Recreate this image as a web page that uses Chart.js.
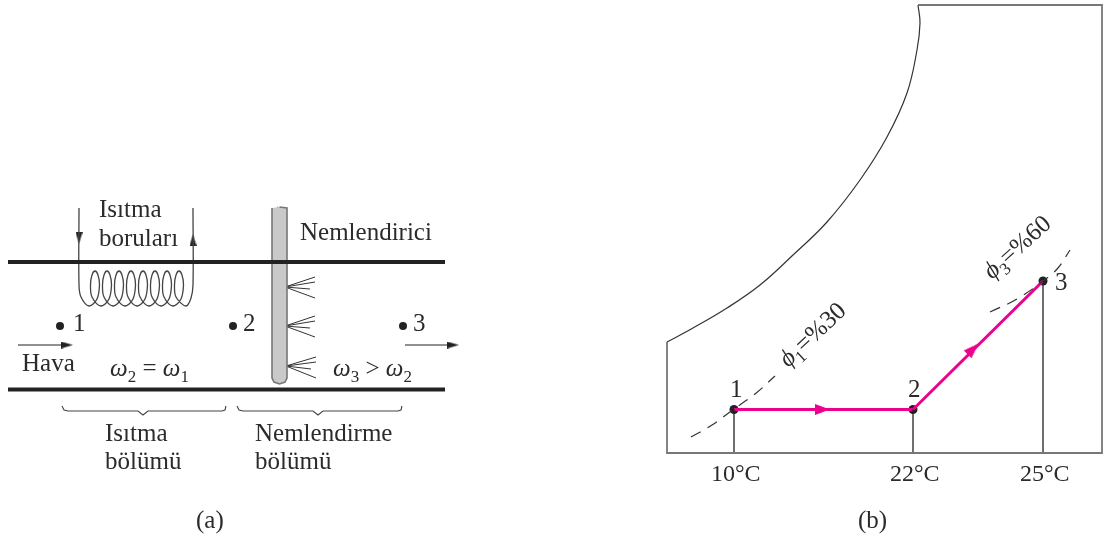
<!DOCTYPE html>
<html>
<head>
<meta charset="utf-8">
<title>Isıtma ve nemlendirme</title>
<script src="https://cdn.jsdelivr.net/npm/chart.js@4/dist/chart.umd.min.js"></script>
<style>
html, body { margin: 0; padding: 0; background: #fff; }
canvas { display: block; }
</style>
</head>
<body>
<canvas id="grafik" width="1103" height="540"></canvas>
<script>
// values (picture units, the y axis runs downwards)
const borderX = [918, 1102, 1102, 667, 667];
const borderY = [5, 5, 453, 453, 342];
const doymaX = [667, 693, 727, 760, 793, 827, 860, 887, 907, 917, 920, 918];
const doymaY = [342, 328, 308, 285, 255, 222, 180, 137, 93, 50, 23, 5];

const phi1X = [691, 712, 734, 755, 775];
const phi1Y = [437, 425, 409, 394, 376];
const phi3X = [990, 1017, 1043, 1058, 1070];
const phi3Y = [312, 299, 281, 268, 250];

const isitmaX = [734, 913];
const isitmaY = [409.5, 409.5];
const nemX = [913, 1043];
const nemY = [409.5, 281];
const stateX = [734, 913, 1043];
const stateY = [409.5, 409.5, 281];

const tempLabels = ['10°C', '22°C', '25°C'];

const duvarUstY = 262;
const duvarAltY = 389.5;
const duvarX = [8, 445];

const coilX = [79, 79, 81, 89, 97, 99.5, 98, 95, 92, 90.5, 92, 101, 109, 111.5, 110, 107, 104, 102.5, 104, 113, 121, 123.5, 122, 119, 116, 114.5, 116, 125, 133, 135.5, 134, 131, 128, 126.5, 128, 137, 145, 147.5, 146, 143, 140, 138.5, 140, 149, 157, 159.5, 158, 155, 152, 150.5, 152, 161, 169, 171.5, 170, 167, 164, 162.5, 164, 173, 181, 183.5, 182, 179, 176, 174.5, 176, 186, 191, 193, 193];
const coilY = [208, 285, 297, 306, 299, 285, 275, 271, 275, 285, 297, 306, 299, 285, 275, 271, 275, 285, 297, 306, 299, 285, 275, 271, 275, 285, 297, 306, 299, 285, 275, 271, 275, 285, 297, 306, 299, 285, 275, 271, 275, 285, 297, 306, 299, 285, 275, 271, 275, 285, 297, 306, 299, 285, 275, 271, 275, 285, 297, 306, 299, 285, 275, 271, 275, 285, 297, 306, 298, 285, 208];

const rodX = [272, 272, 274, 279.5, 285, 287, 287, 279.5];
const rodY = [208, 378, 382, 384, 382, 378, 208, 207];
const rodCapX = [277, 282, 287];
const rodCapY = [207, 210, 208];
const sprayX = [285, 315, null, 285, 315, null, 285, 310, null, 285, 315, null, 285, 315, null, 285, 315, null, 285, 310, null, 285, 315, null, 286, 316, null, 286, 316, null, 286, 311, null, 286, 316];
const sprayY = [287, 277, null, 287, 282, null, 287, 289, null, 287, 298, null, 326, 316, null, 326, 321, null, 326, 328, null, 326, 337, null, 366, 357, null, 366, 362, null, 366, 369, null, 366, 378];

const havaOkX = [18, 67];
const cikisOkX = [405, 453];
const okY = [345, 345];
const points1X = [60, 233, 403];
const points1Y = [326, 326, 326];

const brace1X = [62, 64, 68, 138, 143, 148, 222, 225, 226];
const brace2X = [237, 239, 243, 313, 318, 323, 398, 401, 402];
const braceY = [406, 410, 411, 411, 415, 411, 411, 410, 406];

const siyahOkX = [67, 453, 79, 193];
const siyahOkY = [345, 345, 238, 240];
const siyahOkAci = [90, 90, 180, 0];
const pembeOkX = [822.5, 973];
const pembeOkY = [409.5, 349];
const pembeOkAci = [90, 45];

const labelTexts = ['Isıtma', 'boruları', 'Nemlendirici', '1', '2', '3', 'Hava', 'ω_2 = ω_1', 'ω_3 > ω_2', 'Isıtma', 'bölümü', 'Nemlendirme', 'bölümü', '(a)', '(b)', '1', '2', '3', 'ϕ_1=%30', 'ϕ_3=%60', tempLabels[0], tempLabels[1], tempLabels[2]];
const labelX = [99, 99, 300, 73, 243, 413, 22, 110, 333, 105, 105, 255, 255, 196, 858, 730, 908, 1055, 788, 992, 711, 890, 1020];
const labelY = [217, 246, 240, 331, 331, 331, 371, 376, 376, 441, 469, 441, 469, 528, 528, 397, 397, 290, 368, 280, 481, 481, 481];
const labelAci = [0, 0, 0, 0, 0, 0, 0, 0, 0, 0, 0, 0, 0, 0, 0, 0, 0, 0, -43, -42, 0, 0, 0];

function noktalar(xs, ys) {
    return xs.map(function (x, i) {
        return { x: x, y: ys[i] };
    });
}

function cizgi(xs, ys, renk, kalinlik, ekstra) {
    return Object.assign({
        data: noktalar(xs, ys),
        showLine: true,
        borderColor: renk,
        borderWidth: kalinlik,
        pointRadius: 0,
        fill: false,
        clip: false
    }, ekstra || {});
}

// narrow arrow head, tip upwards, used as a point style
function okResmi(renk, en, boy) {
    const c = document.createElement('canvas');
    c.width = en;
    c.height = boy;
    const g = c.getContext('2d');
    g.fillStyle = renk;
    g.beginPath();
    g.moveTo(en / 2, 0);
    g.lineTo(en, boy);
    g.lineTo(0, boy);
    g.closePath();
    g.fill();
    return c;
}

// text labels, placed through the chart's scales
const yaziEklentisi = {
    id: 'yazilar',
    afterDatasetsDraw: function (chart) {
        const ctx = chart.ctx;
        labelTexts.forEach(function (metin, i) {
            const px = chart.scales.x.getPixelForValue(labelX[i]);
            const py = chart.scales.y.getPixelForValue(labelY[i]);
            const boyut = i >= 20 ? 24 : 25;
            ctx.save();
            ctx.translate(px, py);
            ctx.rotate(labelAci[i] * Math.PI / 180);
            ctx.fillStyle = '#2b2b2b';
            ctx.textBaseline = 'alphabetic';
            var x = 0;
            var parcalar = metin.split(/(_\d|[ωϕ])/).filter(Boolean);
            parcalar.forEach(function (p) {
                var alt = p.charAt(0) === '_';
                var yunan = p === 'ω' || p === 'ϕ';
                var yazi = alt ? p.charAt(1) : p;
                ctx.font = (yunan ? 'italic ' : '') + (alt ? 17 : boyut) + 'px "Liberation Serif"';
                ctx.fillText(yazi, x, alt ? 6 : 0);
                x += ctx.measureText(yazi).width;
            });
            ctx.restore();
        });
    }
};

const grafik = new Chart(document.getElementById('grafik'), {
    type: 'scatter',
    data: {
        datasets: [
            cizgi(duvarX, [duvarUstY, duvarUstY], '#222', 4),
            cizgi(duvarX, [duvarAltY, duvarAltY], '#222', 4),
            cizgi(coilX, coilY, '#444', 1.3, { tension: 0.35 }),
            cizgi(rodX, rodY, '#777', 1.6, { fill: 'shape', backgroundColor: '#c9c9c9' }),
            cizgi(rodCapX, rodCapY, '#777', 1.2, { tension: 0.4 }),
            cizgi(sprayX, sprayY, '#333', 1, { spanGaps: false }),
            cizgi(havaOkX, okY, '#222', 1.2),
            cizgi(cikisOkX, okY, '#222', 1.2),
            cizgi(brace1X, braceY, '#444', 1.1),
            cizgi(brace2X, braceY, '#444', 1.1),
            {
                data: noktalar(points1X, points1Y),
                pointRadius: 4,
                pointBackgroundColor: '#222',
                pointBorderWidth: 0,
                clip: false
            },
            {
                data: noktalar(siyahOkX, siyahOkY),
                pointStyle: okResmi('#222', 7, 12),
                pointRadius: 5,
                pointRotation: siyahOkAci,
                clip: false
            },
            cizgi(borderX, borderY, '#777', 1.8),
            cizgi(doymaX, doymaY, '#333', 1.2, { tension: 0.4 }),
            cizgi(phi1X, phi1Y, '#333', 1.2, { borderDash: [11, 8], tension: 0.4 }),
            cizgi(phi3X, phi3Y, '#333', 1.2, { borderDash: [11, 8], tension: 0.4 }),
            cizgi([stateX[0], stateX[0]], [stateY[0], 453], '#222', 1.3),
            cizgi([stateX[1], stateX[1]], [stateY[1], 453], '#222', 1.3),
            cizgi([stateX[2], stateX[2]], [stateY[2], 453], '#222', 1.3),
            cizgi(isitmaX, isitmaY, '#ec008c', 3),
            cizgi(nemX, nemY, '#ec008c', 3),
            {
                data: noktalar(pembeOkX, pembeOkY),
                pointStyle: okResmi('#ec008c', 11, 15),
                pointRadius: 7,
                pointRotation: pembeOkAci,
                clip: false
            },
            {
                data: noktalar(stateX, stateY),
                pointRadius: 4.5,
                pointBackgroundColor: '#222',
                pointBorderWidth: 0,
                clip: false
            }
        ]
    },
    options: {
        responsive: false,
        animation: false,
        layout: { padding: 0 },
        plugins: {
            legend: { display: false },
            title: { display: false },
            tooltip: { enabled: false }
        },
        scales: {
            x: { type: 'linear', min: 0, max: 1103, display: false },
            y: { type: 'linear', min: 0, max: 540, reverse: true, display: false }
        }
    },
    plugins: [yaziEklentisi]
});

// chart.js insets the plot for the point radius, so line the scales up with the picture
const alan = grafik.chartArea;
grafik.options.scales.x.min = alan.left;
grafik.options.scales.x.max = alan.right;
grafik.options.scales.y.min = alan.top;
grafik.options.scales.y.max = alan.bottom;
grafik.update();
</script>
</body>
</html>
